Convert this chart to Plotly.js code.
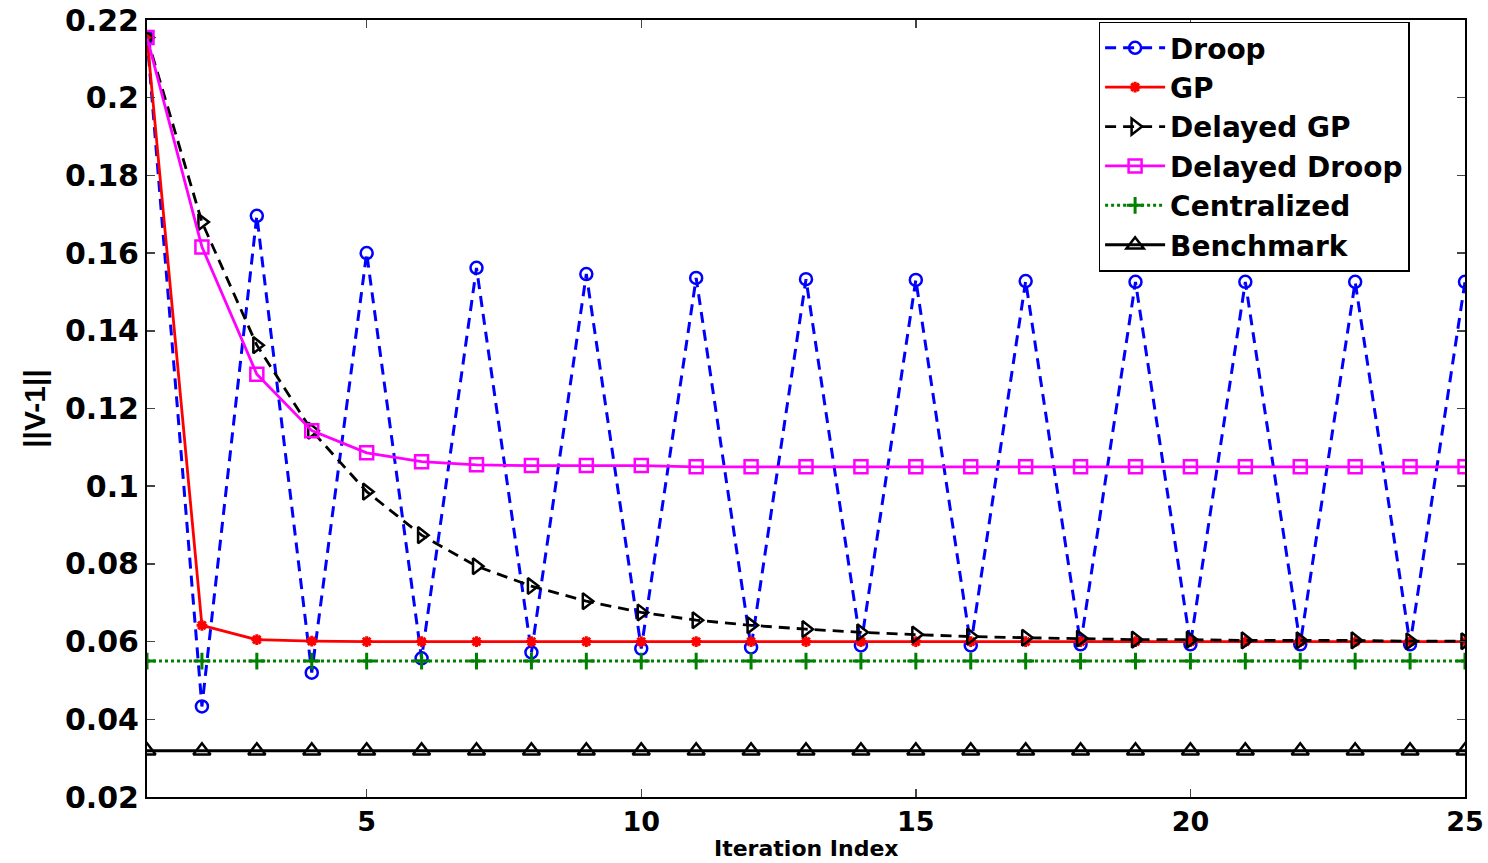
<!DOCTYPE html>
<html>
<head>
<meta charset="utf-8">
<script src="https://cdn.plot.ly/plotly-3.0.1.min.js"></script>
<style>html,body{margin:0;padding:0;background:#fff;}#chart{width:1488px;height:863px;}</style>
</head>
<body>
<div id="chart"></div>
<script>
const iterations = [1,2,3,4,5,6,7,8,9,10,11,12,13,14,15,16,17,18,19,20,21,22,23,24,25];
const droop = [0.2155,0.0433,0.1696,0.0520,0.1600,0.0557,0.1562,0.0572,0.1546,0.0582,0.1536,0.0585,0.1533,0.0590,0.1531,0.0590,0.1528,0.0593,0.1526,0.0593,0.1526,0.0593,0.1526,0.0593,0.1526];
const gp = [0.2155,0.0642,0.0605,0.0601,0.0600,0.0600,0.0600,0.0600,0.0600,0.0600,0.0600,0.0600,0.0600,0.0600,0.0600,0.0600,0.0600,0.0600,0.0600,0.0600,0.0600,0.0600,0.0600,0.0600,0.0600];
const delayedGP = [0.2155,0.1680,0.1363,0.1143,0.0986,0.0874,0.0794,0.0743,0.0704,0.0675,0.0655,0.0642,0.0632,0.0624,0.0618,0.0613,0.0610,0.0608,0.0605,0.0605,0.0603,0.0603,0.0603,0.0601,0.0601];
const delayedDroop = [0.2155,0.1616,0.1288,0.1143,0.1086,0.1063,0.1055,0.1053,0.1053,0.1053,0.1050,0.1050,0.1050,0.1050,0.1050,0.1050,0.1050,0.1050,0.1050,0.1050,0.1050,0.1050,0.1050,0.1050,0.1050];
const centralized = [0.055,0.055,0.055,0.055,0.055,0.055,0.055,0.055,0.055,0.055,0.055,0.055,0.055,0.055,0.055,0.055,0.055,0.055,0.055,0.055,0.055,0.055,0.055,0.055,0.055];
const benchmark = [0.0319,0.0319,0.0319,0.0319,0.0319,0.0319,0.0319,0.0319,0.0319,0.0319,0.0319,0.0319,0.0319,0.0319,0.0319,0.0319,0.0319,0.0319,0.0319,0.0319,0.0319,0.0319,0.0319,0.0319,0.0319];
const seriesNames = ['Droop','GP','Delayed GP','Delayed Droop','Centralized','Benchmark'];
const xTickVals = [5,10,15,20,25];
const yTickVals = [0.02,0.04,0.06,0.08,0.1,0.12,0.14,0.16,0.18,0.2,0.22];
const yTickText = ['0.02','0.04','0.06','0.08','0.1','0.12','0.14','0.16','0.18','0.2','0.22'];
const xTitle = 'Iteration Index';
const yTitle = '||V-1||';

const wide = 'DejaVu Sans, Verdana, sans-serif';
const traces = [
  {x: iterations, y: droop, name: seriesNames[0], mode: 'lines+markers',
   line: {color: '#0000ff', width: 3, dash: '11px,7px'},
   marker: {symbol: 'circle-open', size: 12, color: '#0000ff', line: {width: 2.5, color: '#0000ff'}}},
  {x: iterations, y: gp, name: seriesNames[1], mode: 'lines+markers',
   line: {color: '#ff0000', width: 2.8},
   marker: {symbol: 'asterisk-open', size: 9, color: '#ff0000', line: {width: 3, color: '#ff0000'}}},
  {x: iterations, y: delayedGP, name: seriesNames[2], mode: 'lines+markers',
   line: {color: '#000000', width: 2.8, dash: '11px,7px'},
   marker: {symbol: 'triangle-right-open', size: 14, color: '#000000', line: {width: 2.5, color: '#000000'}}},
  {x: iterations, y: delayedDroop, name: seriesNames[3], mode: 'lines+markers',
   line: {color: '#ff00ff', width: 2.8},
   marker: {symbol: 'square-open', size: 13, color: '#ff00ff', line: {width: 2.5, color: '#ff00ff'}}},
  {x: iterations, y: centralized, name: seriesNames[4], mode: 'lines+markers',
   line: {color: '#008000', width: 3, dash: 'dot'},
   marker: {symbol: 'cross-thin-open', size: 12, color: '#008000', line: {width: 3, color: '#008000'}}},
  {x: iterations, y: benchmark, name: seriesNames[5], mode: 'lines+markers',
   line: {color: '#000000', width: 2.8},
   marker: {symbol: 'triangle-up-open', size: 15, color: '#000000', line: {width: 2.5, color: '#000000'}}}
];
traces.forEach((t, i) => { t.legendgroup = 'g' + i; });

const layout = {
  width: 1488, height: 863,
  margin: {l: 147, r: 23, t: 20, b: 66},
  paper_bgcolor: '#ffffff', plot_bgcolor: '#ffffff',
  font: {family: wide, color: '#000000'},
  showlegend: true,
  legend: {
    x: 0.722, y: 0.998, xanchor: 'left', yanchor: 'top',
    bgcolor: '#ffffff', bordercolor: '#000000', borderwidth: 1.5,
    font: {size: 28, weight: 'bold', family: wide},
    tracegroupgap: 0, itemwidth: 60
  },
  xaxis: {
    range: [1, 25], tickvals: xTickVals, ticks: 'inside', ticklen: 8, tickwidth: 1.5,
    showline: true, mirror: 'ticks', linecolor: '#000000', linewidth: 2,
    showgrid: false, zeroline: false,
    tickfont: {size: 27, weight: 'bold', family: wide}
  },
  yaxis: {
    range: [0.02, 0.22], tickvals: yTickVals, ticktext: yTickText, ticks: 'inside', ticklen: 8, tickwidth: 1.5,
    showline: true, mirror: 'ticks', linecolor: '#000000', linewidth: 2,
    showgrid: false, zeroline: false,
    tickfont: {size: 30, weight: 'bold', family: wide},
    title: {text: yTitle, font: {size: 30, weight: 'bold', family: 'Liberation Sans Narrow, Arial Narrow, Liberation Sans, sans-serif'}, standoff: 10}
  },
  annotations: [{
    text: xTitle, xref: 'paper', yref: 'paper', x: 0.5, y: -0.066,
    xanchor: 'center', yanchor: 'middle', showarrow: false,
    font: {size: 22, weight: 'bold', family: wide}
  }]
};

Plotly.newPlot('chart', traces, layout, {displayModeBar: false, staticPlot: true});
</script>
</body>
</html>
